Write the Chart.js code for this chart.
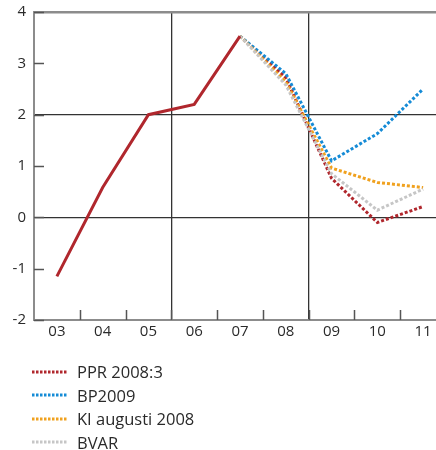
<!DOCTYPE html>
<html>
<head>
<meta charset="utf-8">
<script src="https://cdn.jsdelivr.net/npm/chart.js@4/dist/chart.umd.min.js"></script>
<style>
  html, body { margin: 0; padding: 0; background: #fff; overflow: hidden; width: 436px; height: 450px; }
  #wrap { position: absolute; left: 0; top: -5px; width: 446px; height: 350px; }
  #legend { position: absolute; left: 32px; top: 360px; font-family: "Open Sans", "Noto Sans", sans-serif; font-size: 16.5px; color: #2a2a2a; }
  .item { height: 23.5px; line-height: 23.5px; display: flex; align-items: center; }
  .item canvas { margin-right: 10px; }
</style>
</head>
<body>
<div id="wrap"><canvas id="chart"></canvas></div>
<div id="legend"></div>
<script>
const years = ["03", "04", "05", "06", "07", "08", "09", "10", "11"];
const outcome = [-1.15, 0.58, 2.0, 2.2, 3.53, null, null, null, null];
const ppr = [null, null, null, null, 3.53, 2.72, 0.76, -0.1, 0.21];
const bp2009 = [null, null, null, null, 3.53, 2.8, 1.1, 1.63, 2.5];
const ki = [null, null, null, null, 3.53, 2.64, 0.96, 0.68, 0.58];
const bvar = [null, null, null, null, 3.53, 2.58, 0.85, 0.14, 0.55];
const yTicks = [-2, -1, 0, 1, 2, 3, 4];

const red = '#b0272d';
const blue = '#158bd6';
const orange = '#f0a11e';
const grey = '#c6c6c6';
const dash = [3, 2];

const series = [
  { label: "PPR 2008:3", data: ppr, color: red },
  { label: "BP2009", data: bp2009, color: blue },
  { label: "KI augusti 2008", data: ki, color: orange },
  { label: "BVAR", data: bvar, color: grey }
];

// inward tick marks like the original
const innerTicks = {
  id: 'innerTicks',
  afterDraw(chart) {
    const c = chart.ctx, x = chart.scales.x, y = chart.scales.y;
    c.save();
    c.strokeStyle = '#555';
    c.lineWidth = 1.5;
    c.beginPath();
    yTicks.forEach(v => {
      const py = Math.round(y.getPixelForValue(v)) + 0.5;
      c.moveTo(x.left, py); c.lineTo(x.left + 10, py);
    });
    for (let i = 1; i < years.length; i++) {
      const px = Math.round((x.getPixelForTick(i) + x.getPixelForTick(i - 1)) / 2) + 0.5;
      c.moveTo(px, y.bottom); c.lineTo(px, y.bottom - 10);
    }
    c.stroke();
    c.restore();
  }
};

const datasets = [{
  label: 'utfall',
  data: outcome,
  borderColor: red,
  borderWidth: 3,
  pointRadius: 0,
  tension: 0
}];
// dotted ones, drawn back to front
[...series].reverse().forEach(s => {
  datasets.push({
    label: s.label,
    data: s.data,
    borderColor: s.color,
    borderWidth: 3,
    borderDash: dash,
    pointRadius: 0,
    tension: 0
  });
});

const ctx = document.getElementById('chart').getContext('2d');
const chart = new Chart(ctx, {
  type: 'line',
  data: { labels: years, datasets: datasets },
  options: {
    responsive: true,
    maintainAspectRatio: false,
    animation: false,
    layout: { padding: { top: 3, right: 0, left: 0, bottom: 0 } },
    scales: {
      x: {
        offset: true,
        grid: {
          offset: true,
          drawTicks: false,
          lineWidth: 1.3,
          color: c => (c.index === 3 || c.index === 6) ? '#333' : 'rgba(0,0,0,0)'
        },
        border: { color: '#8c8c8c', width: 2 },
        ticks: { color: '#2a2a2a', padding: 3, font: { family: "Open Sans", size: 15 } },
        afterFit: s => { s.height = 25; }
      },
      y: {
        min: -2,
        max: 4,
        afterBuildTicks: s => { s.ticks = yTicks.map(v => ({ value: v })); },
        grid: {
          drawTicks: false,
          lineWidth: c => c.tick && c.tick.value === 4 ? 2.5 : 1.3,
          color: c => {
            if (!c.tick) return 'rgba(0,0,0,0)';
            if (c.tick.value === 4) return '#8c8c8c';
            if (c.tick.value === 0 || c.tick.value === 2) return '#333';
            return 'rgba(0,0,0,0)';
          }
        },
        border: { color: '#8c8c8c', width: 2 },
        ticks: { color: '#2a2a2a', padding: 8, font: { family: "Open Sans", size: 15 } },
        afterFit: s => { s.width = 34; }
      }
    },
    plugins: {
      legend: { display: false },
      tooltip: { enabled: false }
    }
  },
  plugins: [innerTicks]
});

// legend, one row each
const leg = document.getElementById('legend');
series.forEach(s => {
  const row = document.createElement('div');
  row.className = 'item';
  const sw = document.createElement('canvas');
  sw.width = 35; sw.height = 6;
  const g = sw.getContext('2d');
  g.strokeStyle = s.color; g.lineWidth = 3; g.setLineDash([2.5, 1.5]);
  g.beginPath(); g.moveTo(0, 3); g.lineTo(35, 3); g.stroke();
  row.appendChild(sw);
  const t = document.createElement('span');
  t.textContent = s.label;
  row.appendChild(t);
  leg.appendChild(row);
});
</script>
</body>
</html>
